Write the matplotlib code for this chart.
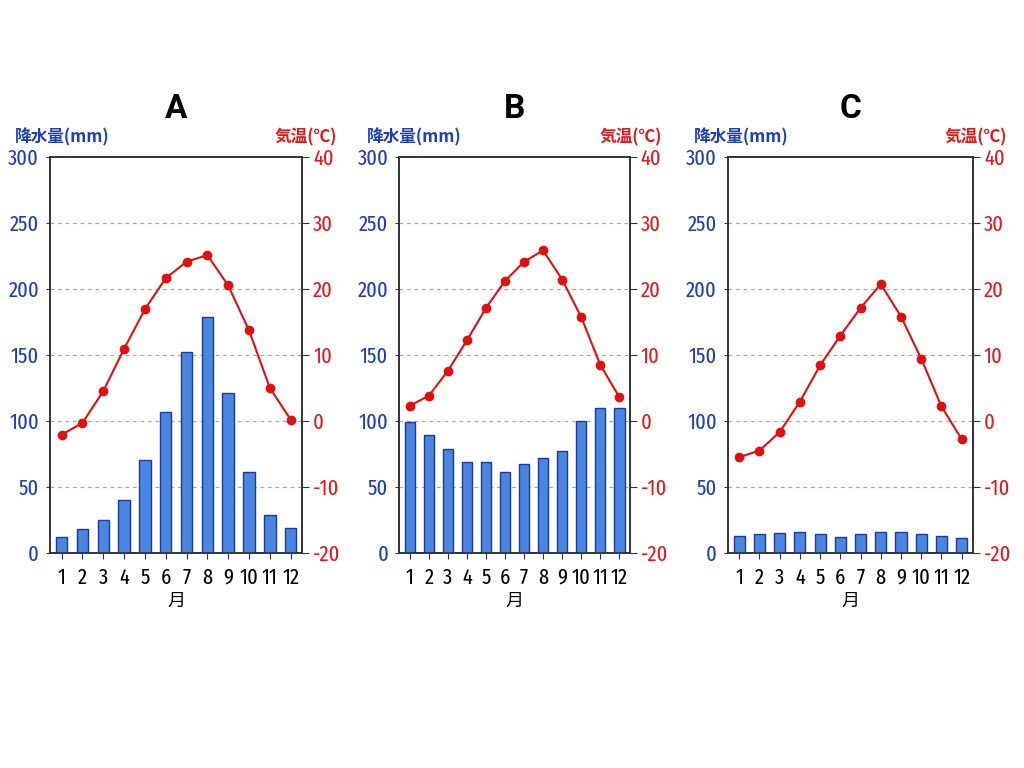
import matplotlib.pyplot as plt

plt.rcParams['font.family'] = ['Noto Sans CJK JP', 'DejaVu Sans']
plt.rcParams['axes.unicode_minus'] = False

months = list(range(1, 13))
panel_names = ['A', 'B', 'C']

precip_a = [12, 18, 25, 40, 70, 107, 152, 179, 121, 61, 29, 19]
temp_a = [-2.1, -0.3, 4.5, 10.9, 16.9, 21.6, 24.1, 25.1, 20.5, 13.7, 5.0, 0.2]

precip_b = [99, 89, 79, 69, 69, 61, 67, 72, 77, 100, 110, 110]
temp_b = [2.3, 3.8, 7.6, 12.2, 17.1, 21.2, 24.1, 25.8, 21.4, 15.7, 8.5, 3.6]

precip_c = [13, 14, 15, 16, 14, 12, 14, 16, 16, 14, 13, 11]
temp_c = [-5.5, -4.5, -1.7, 2.9, 8.4, 12.9, 17.1, 20.7, 15.8, 9.4, 2.2, -2.8]

precip_all = [precip_a, precip_b, precip_c]
temp_all = [temp_a, temp_b, temp_c]

blue_txt = '#1f3fb5'
red_txt = '#e01b1b'
bar_face = '#4a86e0'
bar_edge = '#1a3a9e'
num_font = ['Fira Sans Extra Condensed', 'Roboto Condensed', 'DejaVu Sans']

# axes rectangles in figure fraction (left, bottom, width, height)
rects = [(0.049, 0.280, 0.246, 0.516),
         (0.390, 0.280, 0.225, 0.516),
         (0.711, 0.280, 0.239, 0.516)]

fig = plt.figure(figsize=(10.24, 7.68), dpi=100)

for name, rect, precip, temp in zip(panel_names, rects, precip_all, temp_all):
    ax = fig.add_axes(rect)
    ax.bar(months, precip, width=0.55, color=bar_face, edgecolor=bar_edge, linewidth=1, zorder=3)
    ax.set_ylim(0, 300)
    ax.set_xlim(0.45, 12.55)
    ax.set_yticks([0, 50, 100, 150, 200, 250, 300])
    ax.set_xticks(months)
    ax.tick_params(axis='y', colors=blue_txt, labelsize=16, length=3, pad=5)
    ax.tick_params(axis='y', color='#333333')
    ax.tick_params(axis='x', labelsize=16, length=4, color='#333333', pad=6)
    for lab in ax.get_xticklabels() + ax.get_yticklabels():
        lab.set_family(num_font)
    for y in [50, 100, 150, 200, 250]:
        ax.axhline(y, color='#aaaaaa', linestyle=(0, (3, 3)), linewidth=0.9, zorder=1)
    for sp in ax.spines.values():
        sp.set_color('#333333')
        sp.set_linewidth(1.2)
    ax.set_xlabel('月', fontsize=13, labelpad=3)

    ax2 = ax.twinx()
    ax2.plot(months, temp, color='#e01010', linewidth=1.5, marker='o', markersize=6, zorder=4)
    ax2.set_ylim(-20, 40)
    ax2.set_yticks([-20, -10, 0, 10, 20, 30, 40])
    ax2.tick_params(axis='y', colors=red_txt, labelsize=16, length=5, pad=3)
    ax2.tick_params(axis='y', color='#333333')
    for lab in ax2.get_yticklabels():
        lab.set_family(num_font)
    for sp in ax2.spines.values():
        sp.set_color('#333333')
        sp.set_linewidth(1.2)

    ax.text(0.5, 1.08, name, transform=ax.transAxes, ha='center', va='bottom',
            fontsize=24, fontweight='bold', family=['Roboto', 'DejaVu Sans'])
    ax.text(-0.14, 1.025, '降水量(mm)', transform=ax.transAxes, ha='left', va='bottom',
            fontsize=12, fontweight='bold', color=blue_txt)
    ax.text(1.14, 1.025, '気温(℃)', transform=ax.transAxes, ha='right', va='bottom',
            fontsize=12, fontweight='bold', color=red_txt)

plt.savefig('out.png', dpi=100)
